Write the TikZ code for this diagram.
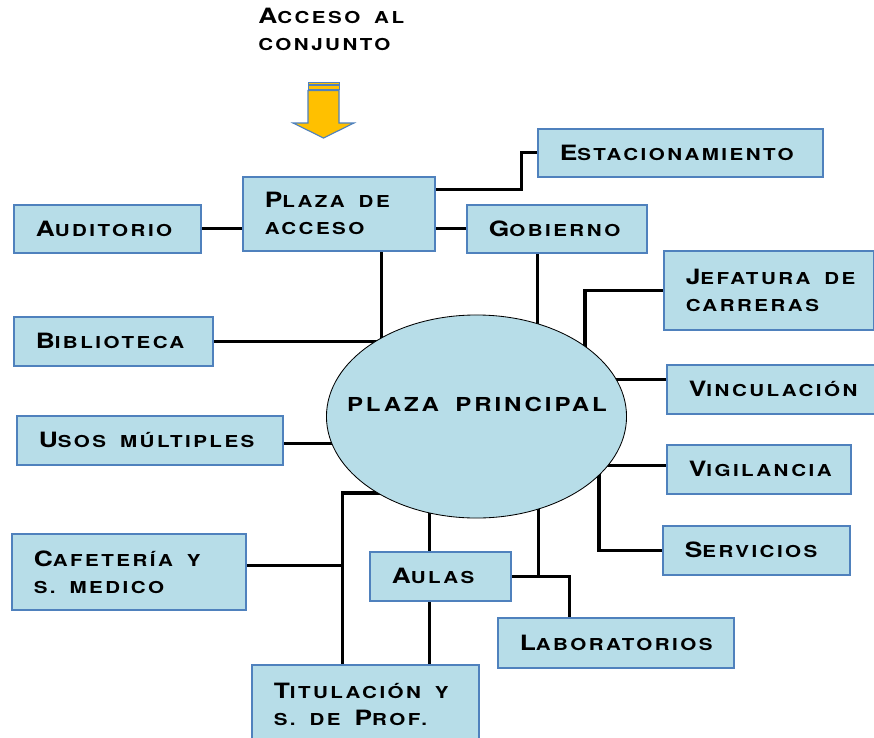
\documentclass[tikz,border=0pt]{standalone}
\usepackage{fontspec}
\newfontfamily\copper{texgyreheros-bold.otf}[FakeStretch=1.25, LetterSpace=15, WordSpace=1.7]
\newcommand\vers[1]{{\fontsize{11.7pt}{19.2pt}\selectfont\spaceskip=0pt\relax\MakeUppercase{#1}}}
\usetikzlibrary{shapes.geometric, positioning, backgrounds}
\definecolor{celeste}{RGB}{183, 221, 232}
\definecolor{bordeazul}{RGB}{79, 129, 189}
\definecolor{flecha}{RGB}{255, 192, 0}
\tikzset{
  zona/.style 2 args={rectangle, draw=bordeazul, fill=celeste, line width=1.1pt,
              anchor=north west, align=left, inner xsep=0.55cm, inner ysep=0pt,
              text width=#1, minimum height=#2},
  via/.style={line width=2.3pt, color=black},
}

\begin{document}
\begin{tikzpicture}[x=0.025cm, y=-0.025cm,
    every node/.style={font=\copper\fontsize{15pt}{19.2pt}\selectfont}]
  \useasboundingbox (0,0) rectangle (874,737);

  % entrada
  \node[anchor=north west, align=left, inner sep=0pt] (titulo) at (258,8)
    {A\vers{cceso al}\\\vers{conjunto}};
  \filldraw[fill=flecha, draw=bordeazul, line width=0.6pt] (308,82.3) rectangle (339,84.7);
  \filldraw[fill=flecha, draw=bordeazul, line width=0.6pt] (308,85.8) rectangle (339,89);
  \filldraw[fill=flecha, draw=bordeazul, line width=0.8pt]
    (308,90.5) -- (339,90.5) -- (339,123) -- (354,123) -- (323.5,138) -- (293,123) -- (308,123) -- cycle;

  % zonas
  \node[zona={6.025cm}{1.2cm}] (estac) at (537,128) {E\vers{stacionamiento}};
  \node[zona={3.7cm}{1.85cm}] (plaza) at (242,176) {\mbox{P\vers{laza de}}\\\vers{acceso}};
  \node[zona={3.575cm}{1.2cm}] (audit) at (13,204) {A\vers{uditorio}};
  \node[zona={3.4cm}{1.2cm}] (gob) at (466,204) {G\vers{obierno}};
  \node[zona={4.15cm}{1.975cm}] (jef) at (663,250) {\mbox{J\vers{efatura de}}\\\vers{carreras}};
  \node[zona={3.875cm}{1.225cm}] (bib) at (13,316) {B\vers{iblioteca}};
  \node[zona={4.15cm}{1.225cm}] (vinc) at (666,364) {V\vers{inculación}};
  \node[zona={5.55cm}{1.225cm}] (usos) at (16,415) {\mbox{U\vers{sos múltiples}}};
  \node[zona={3.5cm}{1.225cm}] (vig) at (666,444) {V\vers{igilancia}};
  \node[zona={4.75cm}{1.9cm}] (cafe) at (11,533) {\mbox{C\vers{afetería y}}\\\mbox{\vers{s. medico}}};
  \node[zona={3.575cm}{1.225cm}] (serv) at (662,525) {S\vers{ervicios}};
  \node[zona={2.425cm}{1.225cm}] (aulas) at (369,551) {A\vers{ulas}};
  \node[zona={4.8cm}{1.25cm}] (lab) at (497,617) {L\vers{aboratorios}};
  \node[zona={4.575cm}{2.0cm}] (titul) at (251,664) {\mbox{T\vers{itulación y}}\\\mbox{\vers{s. de }P\vers{rof.}}};

  \node[ellipse, draw=black, line width=0.6pt, fill=celeste, inner sep=0pt,
        minimum width=7.5cm, minimum height=5.075cm] (principal) at (476.5,416.5) {};
  \node[font=\copper\fontsize{13.7pt}{17pt}\selectfont] (principaltxt) at (477,404)
    {\MakeUppercase{plaza principal}};

  % conexiones
  \begin{scope}[on background layer]
    \draw[via] (audit.east) -- (audit.east -| plaza.west);
    \draw[via] (plaza.east |- gob.west) -- (gob.west);
    \draw[via] (plaza.east) ++(0,-24) -- ++(86,0) |- (estac.west);
    \draw[via] (plaza.south) ++(43,0) coordinate (pa) -- (pa |- principal.center);
    \draw[via] (gob.south) ++(-19,0) coordinate (ga) -- (ga |- principal.center);
    \draw[via] (bib.east) -- (bib.east -| principal.center);
    \draw[via] (usos.east) ++(0,3) coordinate (ua) -- (ua -| principal.center);
    \draw[via] (jef.west) -- ++(-78,0) coordinate (ja) -- (ja |- principal.center);
    \draw[via] (vinc.west) ++(0,-10) coordinate (va) -- (va -| principal.center);
    \draw[via] (vig.west) ++(0,-4) coordinate (vb) -- (vb -| principal.center);
    \draw[via] (serv.west) -- ++(-63,0) coordinate (sa) -- (sa |- principal.center);
    \draw[via] (titul.north) ++(-23,0) coordinate (ta) -- ++(0,-171) -- ++(60,0);
    \draw[via] (cafe.east) ++(0,-6) coordinate (ca) -- (ca -| ta);
    \draw[via] (aulas.north) ++(-11,0) coordinate (aa) -- (aa |- principal.center);
    \draw[via] (aa |- aulas.south) -- (aa |- titul.north);
    \draw[via] (aulas.east) -- ++(58,0) coordinate (la) -- (la |- lab.north);
    \draw[via] (la) ++(-31,0) coordinate (lb) -- (lb |- principal.center);
  \end{scope}
\end{tikzpicture}
\end{document}
